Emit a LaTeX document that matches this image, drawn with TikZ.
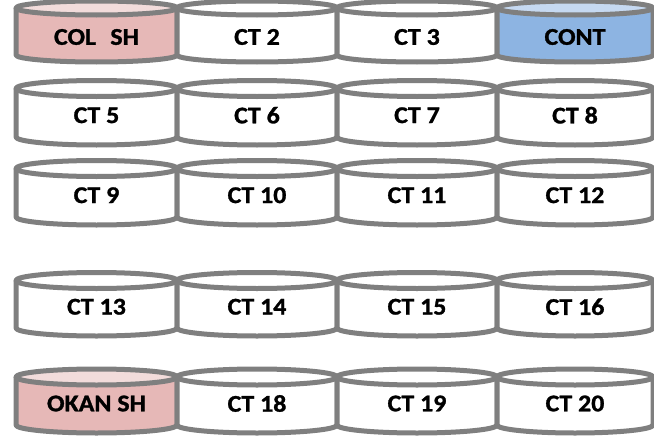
\documentclass[tikz,border=0pt]{standalone}
\usepackage{fontspec}
\setmainfont{Carlito}[FakeStretch=1.08, BoldFeatures={FakeBold=1.2}]
\definecolor{edge}{RGB}{127,127,127}
\definecolor{pinkbody}{RGB}{230,184,183}
\definecolor{pinktop}{RGB}{242,220,219}
\definecolor{bluebody}{RGB}{141,180,226}
\definecolor{bluetop}{RGB}{198,217,241}
\tikzset{
  tankline/.style={draw=edge, line width=5pt, line join=round},
  lbl/.style={font=\fontsize{24}{24}\selectfont\bfseries, inner sep=0pt, text=black},
}
\newcommand\lblshift{0}
% xl, xr, ytop, ybottom, ry, body colour, top colour, name, label
\newcommand\tank[9]{%
  \pgfmathsetmacro\tkx{(#1+#2)/2}%
  \pgfmathsetmacro\tkrx{(#2-#1)/2}%
  \pgfmathsetmacro\tky{-(#3+#5+#4)/2+1.5-\lblshift}%
  \fill[#6] (#1,-#3) -- (#1,-#4) arc[start angle=180,end angle=360,x radius=\tkrx,y radius=#5] -- (#2,-#3) -- cycle;
  \draw[tankline] (#1,-#3) -- (#1,-#4) arc[start angle=180,end angle=360,x radius=\tkrx,y radius=#5] -- (#2,-#3);
  \filldraw[tankline, fill=#7] (\tkx,-#3) ellipse[x radius=\tkrx, y radius=#5];
  \node[lbl] (#8) at (\tkx,\tky) {#9};
}
\begin{document}
\begin{tikzpicture}[x=1pt,y=1pt]
\useasboundingbox (0,0) rectangle (654,-439);
\clip (0,0) rectangle (654,-439);
% row 1
\renewcommand\lblshift{3.5}
\tank{16}{177}{8}{55}{7}{pinkbody}{pinktop}{colsh}{COL\hspace{0.6em}SH}
\tank{177}{337}{8}{55}{7}{white}{white}{ct2}{CT 2}
\tank{337}{497}{8}{55}{7}{white}{white}{ct3}{CT 3}
\tank{497}{653}{8}{55}{7}{bluebody}{bluetop}{cont}{CONT}
\renewcommand\lblshift{0}
% row 2
\tank{16}{177}{88.5}{137}{8}{white}{white}{ct5}{CT 5}
\tank{177}{337}{88.5}{137}{8}{white}{white}{ct6}{CT 6}
\tank{337}{497}{88.5}{137}{8}{white}{white}{ct7}{CT 7}
\tank{497}{653}{88.5}{137}{8}{white}{white}{ct8}{CT 8}
% row 3
\tank{16}{177}{168.5}{217}{8}{white}{white}{ct9}{CT 9}
\tank{177}{337}{168.5}{217}{8}{white}{white}{ct10}{CT 10}
\tank{337}{497}{168.5}{217}{8}{white}{white}{ct11}{CT 11}
\tank{497}{653}{168.5}{217}{8}{white}{white}{ct12}{CT 12}
% row 4
\tank{16}{177}{280.5}{328}{8}{white}{white}{ct13}{CT 13}
\tank{177}{337}{280.5}{328}{8}{white}{white}{ct14}{CT 14}
\tank{337}{497}{280.5}{328}{8}{white}{white}{ct15}{CT 15}
\tank{497}{653}{280.5}{328}{8}{white}{white}{ct16}{CT 16}
% row 5
\tank{16}{177}{377}{425}{8}{pinkbody}{pinktop}{okansh}{OKAN SH}
\tank{177}{337}{377}{425}{8}{white}{white}{ct18}{CT 18}
\tank{337}{497}{377}{425}{8}{white}{white}{ct19}{CT 19}
\tank{497}{653}{377}{425}{8}{white}{white}{ct20}{CT 20}
\end{tikzpicture}
\end{document}
